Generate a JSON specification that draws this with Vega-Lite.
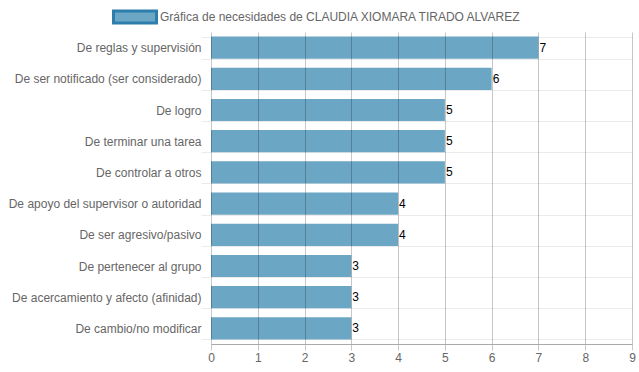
{
  "$schema": "https://vega.github.io/schema/vega-lite/v6.json",
  "width": 421,
  "height": 312,
  "autosize": "none",
  "padding": {"left": 211, "top": 32, "right": 7, "bottom": 28},
  "config": {"font": "Liberation Sans", "view": {"stroke": null}},
  "data": {
    "values": [
      {"necesidad": "De reglas y supervisión", "valor": 7},
      {"necesidad": "De ser notificado (ser considerado)", "valor": 6},
      {"necesidad": "De logro", "valor": 5},
      {"necesidad": "De terminar una tarea", "valor": 5},
      {"necesidad": "De controlar a otros", "valor": 5},
      {"necesidad": "De apoyo del supervisor o autoridad", "valor": 4},
      {"necesidad": "De ser agresivo/pasivo", "valor": 4},
      {"necesidad": "De pertenecer al grupo", "valor": 3},
      {"necesidad": "De acercamiento y afecto (afinidad)", "valor": 3},
      {"necesidad": "De cambio/no modificar", "valor": 3}
    ]
  },
  "encoding": {
    "y": {
      "field": "necesidad",
      "type": "nominal",
      "sort": null,
      "title": null,
      "scale": {"paddingInner": 0.29, "paddingOuter": 0.145},
      "axis": {
        "domain": false,
        "grid": true,
        "gridColor": "#ebebeb",
        "tickBand": "extent",
        "ticks": true,
        "tickSize": 10,
        "tickColor": "#ebebeb",
        "labelPadding": 0,
        "labelFontSize": 12,
        "labelColor": "#666666",
        "labelLimit": 300
      }
    },
    "x": {
      "field": "valor",
      "type": "quantitative",
      "title": null,
      "scale": {"domain": [0, 9], "nice": false},
      "axis": {
        "zindex": 1,
        "values": [0, 1, 2, 3, 4, 5, 6, 7, 8, 9],
        "grid": true,
        "gridColor": "#000000",
        "gridOpacity": 0.22,
        "domainColor": "#aaaaaa",
        "tickColor": "#000000",
        "tickOpacity": 0.22,
        "tickSize": 6,
        "labelPadding": 2,
        "labelFontSize": 12,
        "labelColor": "#666666",
        "labelFlush": false
      }
    }
  },
  "layer": [
    {
      "mark": {"type": "bar"},
      "encoding": {
        "color": {
          "datum": "Gráfica de necesidades de CLAUDIA XIOMARA TIRADO ALVAREZ",
          "type": "nominal",
          "scale": {"range": ["#6ba6c5"]},
          "legend": {
            "title": null,
            "orient": "none",
            "legendX": -99,
            "legendY": -38,
            "symbolType": "M-1,-0.28H1V0.28H-1Z",
            "symbolSize": 1849,
            "symbolStrokeColor": "#2e7ead",
            "symbolStrokeWidth": 3,
            "labelFontSize": 12,
            "labelColor": "#666666",
            "labelOffset": 2,
            "labelLimit": 500
          }
        }
      }
    },
    {
      "mark": {"type": "text", "align": "left", "baseline": "middle", "dx": 1, "fontSize": 12, "color": "#000000"},
      "encoding": {"text": {"field": "valor", "type": "quantitative"}}
    }
  ]
}
